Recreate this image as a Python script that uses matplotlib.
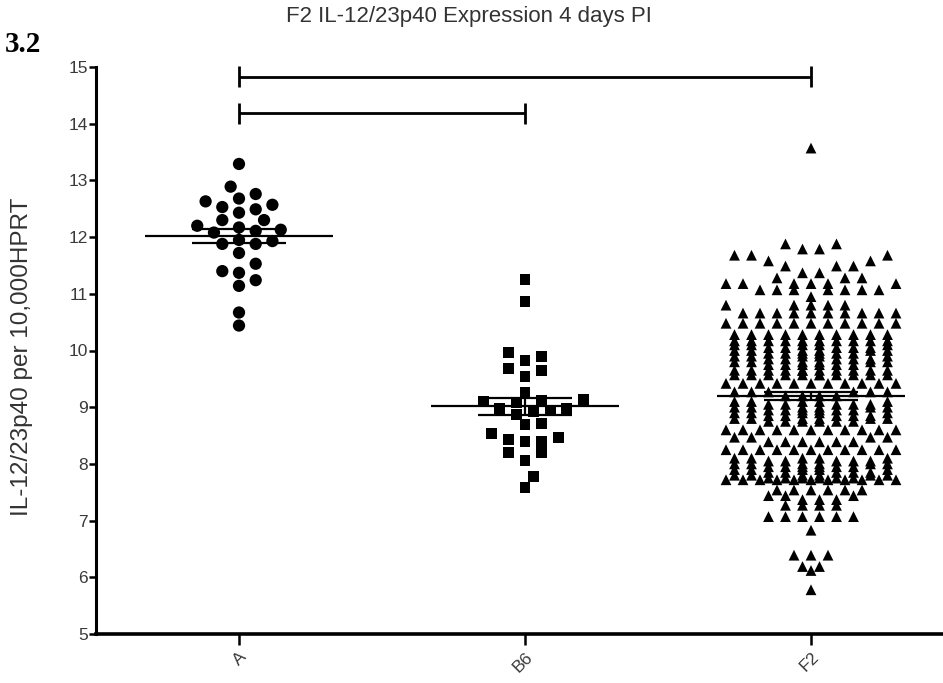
import numpy as np
import matplotlib
matplotlib.use("Agg")
import matplotlib.pyplot as plt

plt.rcParams['font.family'] = ['Liberation Sans', 'DejaVu Sans']

groups = ["A", "B6", "F2"]

a_vals = [13.29, 12.89, 12.76, 12.68, 12.63, 12.57, 12.53, 12.49, 12.43, 12.30, 12.30,
          12.20, 12.17, 12.13, 12.11, 12.08, 11.95, 11.93, 11.88, 11.88, 11.72, 11.53,
          11.40, 11.37, 11.24, 11.14, 10.67, 10.44]

b6_vals = [11.26, 10.86, 9.97, 9.90, 9.83, 9.69, 9.64, 9.54, 9.26, 9.13, 9.12, 9.10,
           9.08, 8.98, 8.97, 8.95, 8.93, 8.87, 8.72, 8.69, 8.53, 8.46, 8.43, 8.40,
           8.39, 8.20, 8.20, 8.06, 7.78, 7.59]

# F2 animals: expression level and how many animals sit at that level
f2_levels = [13.57, 11.88, 11.79, 11.68, 11.58, 11.49, 11.37,
             11.28, 11.18, 11.07, 10.95, 10.80, 10.66,
             10.48, 10.28, 10.17,
             10.10, 10.05, 10.00, 9.95, 9.90, 9.85, 9.80, 9.75,
             9.65, 9.57, 9.42, 9.27, 9.20,
             9.10, 9.05, 9.00, 8.95, 8.90, 8.85, 8.80, 8.75,
             8.60, 8.47, 8.39, 8.25,
             8.10, 8.05, 8.00, 7.95, 7.90, 7.85, 7.80, 7.75,
             7.72, 7.54, 7.44, 7.37, 7.27, 7.07,
             6.83, 6.39, 6.19, 6.12, 5.78]
f2_counts = [1, 2, 2, 3, 2, 3, 2,
             3, 6, 7, 1, 5, 10,
             11, 10, 10,
             5, 5, 6, 6, 5, 5, 6, 6,
             11, 11, 11, 6, 4,
             5, 5, 6, 6, 5, 5, 6, 6,
             11, 4, 6, 11,
             5, 5, 6, 6, 5, 5, 6, 6,
             11, 6, 3, 3, 4, 6,
             1, 3, 2, 1, 1]

# significance brackets: (from group, to group, height)
brackets = [(0, 2, 14.83), (0, 1, 14.18)]

X_PX = 286.0   # pixels per group along x
Y_PX = 56.7    # pixels per unit along y

# row boundaries for the F2 column: coarse rows in the sparse top, finer below
ROW_EDGES = np.round(np.r_[12.13 - 0.4 * np.arange(5), 10.33 - 0.2 * np.arange(24)], 2)


def swarm_offsets(vals, step=8.35, dx_min=16.0, dy_min=12.0):
    vals = np.asarray(vals, float)
    placed = []
    offs = np.zeros(len(vals))
    for i in np.argsort(vals):
        y = vals[i] * Y_PX
        k = 0
        x_ok = None
        while x_ok is None:
            for c in ([0] if k == 0 else [k, -k]):
                x = c * step
                if all(((x - px) / dx_min) ** 2 + ((y - py) / dy_min) ** 2 >= 1
                       for px, py in placed):
                    x_ok = x
                    break
            k += 1
        placed.append((x_ok, y))
        offs[i] = x_ok / X_PX
    return offs


def binned_offsets(vals, edges=ROW_EDGES, step=17.0):
    # each row is filled from the centre outwards, wrapping when it is full
    vals = np.asarray(vals, float)
    offs = np.zeros(len(vals))
    bins = np.array([np.sum(edges > v + 1e-9) for v in vals])
    for b in np.unique(bins):
        idx = np.where(bins == b)[0]
        idx = idx[np.argsort(vals[idx], kind="stable")]
        n = len(idx)
        if n % 2:
            seq = [0] + [s * k for k in range(1, 6) for s in (1, -1)]
        else:
            seq = [s * (k + 0.5) for k in range(5) for s in (1, -1)]
        for j, i in enumerate(idx):
            offs[i] = seq[j % len(seq)] * step / X_PX
    return offs


f2_vals = np.repeat(f2_levels, f2_counts)
data = [np.array(a_vals), np.array(b6_vals), f2_vals]
offsets = [swarm_offsets(a_vals), swarm_offsets(b6_vals, dy_min=11.0),
           binned_offsets(f2_vals)]
markers = [("o", 78), ("s", 62), ("^", 60)]

fig = plt.figure(figsize=(9.43, 6.83), dpi=100)
ax = fig.add_axes([96 / 943, 49 / 683, 858 / 943, 567 / 683])

for i, (vals, off, (mk, sz)) in enumerate(zip(data, offsets, markers)):
    ax.scatter(i + off, vals, marker=mk, s=sz, color="black", edgecolors="none",
               zorder=2, clip_on=False)
    m = vals.mean()
    sem = vals.std(ddof=1) / np.sqrt(len(vals))
    ax.hlines(m, i - 0.327, i + 0.327, color="black", lw=1.6, zorder=3)
    ax.hlines([m - sem, m + sem], i - 0.165, i + 0.165, color="black", lw=1.6, zorder=3)
    ax.vlines(i, m - sem, m + sem, color="black", lw=1.6, zorder=3)

for g0, g1, h in brackets:
    ax.plot([g0, g1], [h, h], color="black", lw=2.0, solid_capstyle="butt", clip_on=False)
    ax.vlines([g0, g1], h - 0.19, h + 0.19, color="black", lw=2.0, clip_on=False)

ax.set_xlim(-0.5, 2.5)
ax.set_ylim(5, 15)
ax.set_yticks(range(5, 16))
ax.set_xticks(range(3))
ax.set_xticklabels(groups, rotation=45, ha="right", va="top", rotation_mode="anchor")

for side in ("top", "right"):
    ax.spines[side].set_visible(False)
ax.spines["left"].set_linewidth(2.2)
ax.spines["bottom"].set_linewidth(2.6)
ax.tick_params(axis="y", length=5, width=1.8, pad=1, labelsize=12.5, labelcolor="#3a3a3a")
ax.tick_params(axis="x", length=8, width=1.8, pad=3, labelsize=12.5, labelcolor="#3a3a3a")

fig.text(469 / 943, 1 - 22 / 683, "F2 IL-12/23p40 Expression 4 days PI",
         ha="center", va="baseline", fontsize=16, color="#333333")
fig.text(22 / 943, 0.477, "IL-12/23p40 per 10,000HPRT", rotation=90,
         ha="center", va="center", fontsize=17.5, color="#333333")
fig.text(5 / 943, 1 - 52 / 683, "3.2", ha="left", va="baseline", fontsize=21,
         fontweight="bold", family=["Liberation Serif", "DejaVu Serif"])

fig.savefig("out.png", dpi=100)
